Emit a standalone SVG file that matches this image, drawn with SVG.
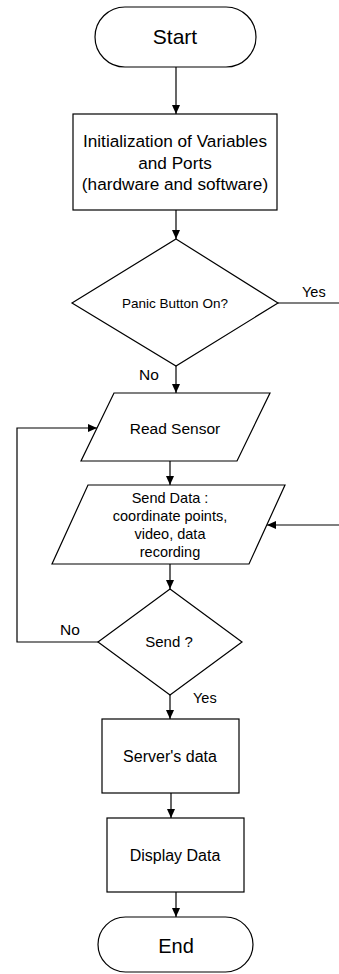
<svg xmlns="http://www.w3.org/2000/svg" width="339" height="974" viewBox="0 0 339 974">
  <style>
    .shape { fill: #ffffff; stroke: #000000; stroke-width: 1.2; }
    .edge { fill: none; stroke: #000000; stroke-width: 1.2; }
    text { font-family: "Liberation Sans", Arial, sans-serif; fill: #000000; }
    .c { text-anchor: middle; }
  </style>
  <defs>
    <marker id="arrow" markerWidth="9" markerHeight="8" refX="9" refY="4" orient="auto" markerUnits="userSpaceOnUse">
      <path d="M0,0 L9,4 L0,8 Z" fill="#000000"/>
    </marker>
  </defs>
  <rect width="339" height="974" fill="#ffffff"/>

  <!-- connectors -->
  <g id="connectors">
    <line class="edge" x1="176" y1="67" x2="176" y2="114" marker-end="url(#arrow)"/>
    <line class="edge" x1="176" y1="210" x2="176" y2="239" marker-end="url(#arrow)"/>
    <line class="edge" x1="278" y1="303" x2="339" y2="303"/>
    <line class="edge" x1="176" y1="366" x2="176" y2="393" marker-end="url(#arrow)"/>
    <line class="edge" x1="170" y1="461" x2="170" y2="485" marker-end="url(#arrow)"/>
    <line class="edge" x1="339" y1="525" x2="267" y2="525" marker-end="url(#arrow)"/>
    <line class="edge" x1="170" y1="564" x2="170" y2="589" marker-end="url(#arrow)"/>
    <polyline class="edge" points="98,642 17,642 17,428 97,428" marker-end="url(#arrow)"/>
    <line class="edge" x1="170" y1="695" x2="170" y2="719" marker-end="url(#arrow)"/>
    <line class="edge" x1="171" y1="793" x2="171" y2="818" marker-end="url(#arrow)"/>
    <line class="edge" x1="176" y1="892" x2="176" y2="917" marker-end="url(#arrow)"/>
    <text x="302" y="297" font-size="14.5">Yes</text>
    <text x="139" y="380" font-size="15.5">No</text>
    <text x="60" y="635" font-size="15.5">No</text>
    <text x="193" y="703" font-size="14.5">Yes</text>
  </g>

  <g id="start">
    <rect class="shape" x="95" y="7" width="161" height="60" rx="30" ry="30"/>
    <text class="c" x="175" y="44" font-size="21">Start</text>
  </g>

  <g id="init">
    <rect class="shape" x="73" y="114" width="204" height="96"/>
    <text class="c" x="175" y="147" font-size="17.2">Initialization of Variables</text>
    <text class="c" x="175" y="168.5" font-size="17.2">and Ports</text>
    <text class="c" x="175" y="190" font-size="17.2">(hardware and software)</text>
  </g>

  <g id="panic">
    <polygon class="shape" points="176,239 278,303 176,366 72,303"/>
    <text class="c" x="175" y="308" font-size="13.5">Panic Button On?</text>
  </g>

  <g id="read-sensor">
    <polygon class="shape" points="114,393 270,393 237,461 81,461"/>
    <text class="c" x="175" y="434" font-size="15.5">Read Sensor</text>
  </g>

  <g id="send-data">
    <polygon class="shape" points="88,485 285,485 249,564 52,564"/>
    <text class="c" x="170" y="503" font-size="14.5">Send Data :</text>
    <text class="c" x="170" y="521" font-size="14.5">coordinate points,</text>
    <text class="c" x="170" y="539" font-size="14.5">video, data</text>
    <text class="c" x="170" y="557" font-size="14.5">recording</text>
  </g>

  <g id="send-check">
    <polygon class="shape" points="170,589 242,642 170,695 98,642"/>
    <text class="c" x="169" y="647" font-size="15">Send ?</text>
  </g>

  <g id="server-data">
    <rect class="shape" x="102" y="719" width="137" height="74"/>
    <text class="c" x="170" y="762" font-size="16">Server's data</text>
  </g>

  <g id="display-data">
    <rect class="shape" x="107" y="818" width="137" height="74"/>
    <text class="c" x="175" y="861" font-size="16">Display Data</text>
  </g>

  <g id="end">
    <rect class="shape" x="98" y="917" width="155" height="55" rx="27.5" ry="27.5"/>
    <text class="c" x="176" y="953" font-size="20">End</text>
  </g>
</svg>
